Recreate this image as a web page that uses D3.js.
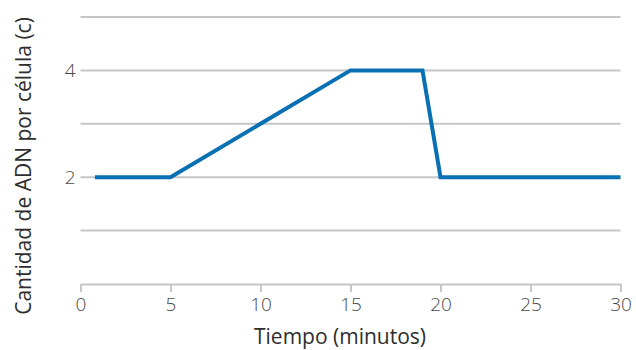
<!DOCTYPE html>
<html>
<head>
<meta charset="utf-8">
<script src="https://cdn.jsdelivr.net/npm/d3@7"></script>
<style>
  html, body { margin: 0; padding: 0; background: #fff; }
  svg { display: block; }
</style>
</head>
<body>
<script>
const timeMin = [0.8, 5, 15, 19, 20, 30];
const dnaAmount = [2, 2, 4, 4, 2, 2];
const xTicks = [0, 5, 10, 15, 20, 25, 30];
const yGrid = [1, 2, 3, 4, 5];
const yTickLabels = [2, 4];
const xTitle = "Tiempo (minutos)";
const yTitle = "Cantidad de ADN por célula (c)";

const W = 636, H = 350;
const svg = d3.select("body").append("svg").attr("width", W).attr("height", H);

const x = d3.scaleLinear().domain([0, 30]).range([80.5, 620.5]);
const y = d3.scaleLinear().domain([0, 5]).range([284, 17]);

const gridColor = "#c6c6c8";
const font = "'Open Sans', 'Noto Sans', sans-serif";

// horizontal gridlines
svg.append("g").selectAll("line").data(yGrid).join("line")
  .attr("x1", x(0)).attr("x2", x(30))
  .attr("y1", d => y(d)).attr("y2", d => y(d))
  .attr("stroke", gridColor).attr("stroke-width", 2);

// x axis
const xAxis = d3.axisBottom(x).tickValues(xTicks).tickFormat(d3.format("d"))
  .tickSize(8).tickPadding(6).tickSizeOuter(0);
const gx = svg.append("g").attr("transform", `translate(0,${y(0)})`).call(xAxis);
gx.select(".domain").attr("stroke", gridColor).attr("stroke-width", 2);
gx.selectAll(".tick line").attr("stroke", gridColor).attr("stroke-width", 2);
gx.selectAll(".tick text")
  .attr("font-family", font).attr("font-weight", 300).attr("font-size", 19)
  .attr("fill", "#4a4a4a");

// y axis labels
const yAxis = d3.axisLeft(y).tickValues(yTickLabels).tickFormat(d3.format("d"))
  .tickSize(0).tickPadding(5);
const gy = svg.append("g").attr("transform", `translate(${x(0)},0)`).call(yAxis);
gy.select(".domain").remove();
gy.selectAll(".tick text")
  .attr("font-family", font).attr("font-weight", 300).attr("font-size", 19)
  .attr("fill", "#4a4a4a");

// data line
const line = d3.line().x((d, i) => x(timeMin[i])).y(d => y(d));
svg.append("path").datum(dnaAmount)
  .attr("d", line)
  .attr("fill", "none")
  .attr("stroke", "#0a70b4")
  .attr("stroke-width", 4)
  .attr("stroke-linejoin", "miter");

// axis titles
svg.append("text")
  .attr("x", 340).attr("y", 344)
  .attr("text-anchor", "middle")
  .attr("font-family", font).attr("font-size", 21)
  .attr("fill", "#2e2e2e")
  .text(xTitle);

svg.append("text")
  .attr("transform", "translate(31,166) rotate(-90)")
  .attr("text-anchor", "middle")
  .attr("font-family", font).attr("font-size", 21)
  .attr("fill", "#2e2e2e")
  .text(yTitle);
</script>
</body>
</html>
